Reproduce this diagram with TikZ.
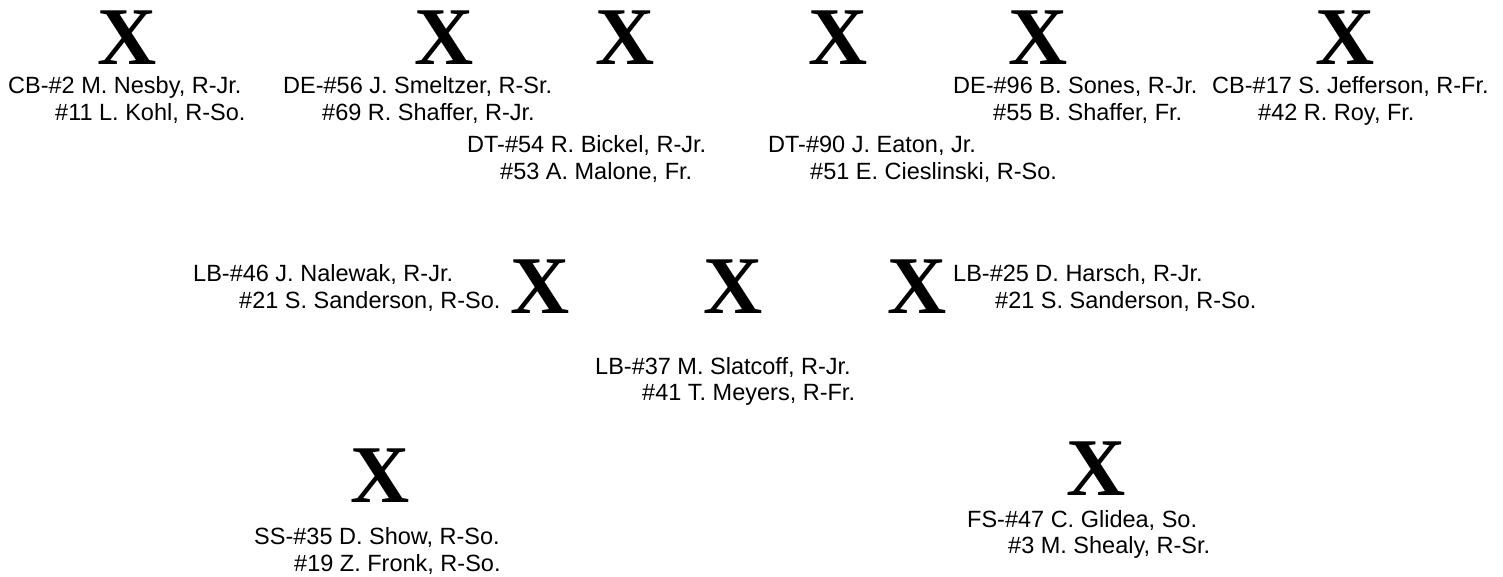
\documentclass[tikz,border=0pt]{standalone}
\usepackage{fontspec}
\setmainfont{Liberation Sans}
\newfontfamily\xfont{Liberation Serif}
\usetikzlibrary{positioning}
\tikzset{
  plyr/.style={inner sep=0pt,anchor=base,font=\xfont\bfseries\fontsize{82}{82}\selectfont},
  lab/.style={inner sep=0pt,anchor=base west,font=\fontsize{23.5}{28}\selectfont},
}
\begin{document}
\begin{tikzpicture}[x=1pt,y=-1pt]
\useasboundingbox (0,0) rectangle (1503,576);
% line
\node[plyr] (cbL) at (127,64) {X};
\node[plyr] (deL) at (444,64) {X};
\node[plyr] (dtL) at (625,64) {X};
\node[plyr] (dtR) at (838,64) {X};
\node[plyr] (deR) at (1038,64) {X};
\node[plyr] (cbR) at (1345,64) {X};
\node[lab] (cbLa) at (8,93) {CB-\#2 M. Nesby, R-Jr.};
\node[lab] (cbLb) at (55,120) {\#11 L. Kohl, R-So.};
\node[lab] (deLa) at (283,93) {DE-\#56 J. Smeltzer, R-Sr.};
\node[lab] (deLb) at (322,120) {\#69 R. Shaffer, R-Jr.};
\node[lab] (dtLa) at (467,152) {DT-\#54 R. Bickel, R-Jr.};
\node[lab] (dtLb) at (500,179) {\#53 A. Malone, Fr.};
\node[lab] (dtRa) at (768,152) {DT-\#90 J. Eaton, Jr.};
\node[lab] (dtRb) at (810,179) {\#51 E. Cieslinski, R-So.};
\node[lab] (deRa) at (953,93) {DE-\#96 B. Sones, R-Jr.};
\node[lab] (deRb) at (993,120) {\#55 B. Shaffer, Fr.};
\node[lab] (cbRa) at (1212,93) {CB-\#17 S. Jefferson, R-Fr.};
\node[lab] (cbRb) at (1258,120) {\#42 R. Roy, Fr.};
% linebackers
\node[plyr] (lbL) at (540,313) {X};
\node[plyr] (lbM) at (733,313) {X};
\node[plyr] (lbR) at (917,313) {X};
\node[lab] (lbLa) at (193,281) {LB-\#46 J. Nalewak, R-Jr.};
\node[lab] (lbLb) at (239,308) {\#21 S. Sanderson, R-So.};
\node[lab] (lbMa) at (595,374) {LB-\#37 M. Slatcoff, R-Jr.};
\node[lab] (lbMb) at (642,400) {\#41 T. Meyers, R-Fr.};
\node[lab] (lbRa) at (953,281) {LB-\#25 D. Harsch, R-Jr.};
\node[lab] (lbRb) at (995,308) {\#21 S. Sanderson, R-So.};
% safeties
\node[plyr] (ss) at (380,502) {X};
\node[plyr] (fs) at (1096,495) {X};
\node[lab] (ssa) at (254,544) {SS-\#35 D. Show, R-So.};
\node[lab] (ssb) at (294,571) {\#19 Z. Fronk, R-So.};
\node[lab] (fsa) at (967,527) {FS-\#47 C. Glidea, So.};
\node[lab] (fsb) at (1008,553) {\#3 M. Shealy, R-Sr.};
\end{tikzpicture}
\end{document}
